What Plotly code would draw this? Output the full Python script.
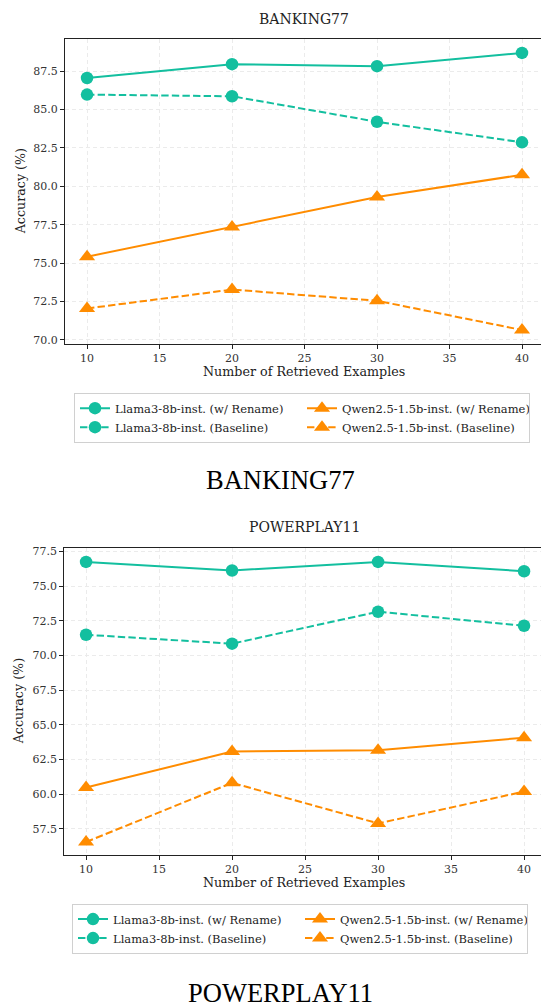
import plotly.graph_objects as go

# Number of retrieved in-context examples
retrieved = [10, 20, 30, 40]

# BANKING77 accuracy (%)
bank_llama_rename = [87.05, 87.95, 87.82, 88.68]
bank_llama_base = [85.97, 85.86, 84.20, 82.86]
bank_qwen_rename = [75.42, 77.35, 79.30, 80.75]
bank_qwen_base = [72.05, 73.28, 72.55, 70.65]

# POWERPLAY11 accuracy (%)
pp_llama_rename = [76.74, 76.12, 76.74, 76.07]
pp_llama_base = [71.49, 70.85, 73.15, 72.14]
pp_qwen_rename = [60.48, 63.08, 63.17, 64.07]
pp_qwen_base = [56.56, 60.82, 57.90, 60.19]

series_names = [
    "Llama3-8b-inst. (w/ Rename)",
    "Llama3-8b-inst. (Baseline)",
    "Qwen2.5-1.5b-inst. (w/ Rename)",
    "Qwen2.5-1.5b-inst. (Baseline)",
]
dataset_names = ["BANKING77", "POWERPLAY11"]

TEAL = "#13bf9f"
ORANGE = "#ff8c00"
DASH = "7.4px,3.2px"
SERIF = "DejaVu Serif"

W, H = 541, 1008

fig = go.Figure()


def add_panel(idx, values):
    xa = "x" if idx == 0 else "x2"
    ya = "y" if idx == 0 else "y2"
    leg = "legend" if idx == 0 else "legend2"
    styles = [
        (TEAL, "solid", "circle", 12.5),
        (TEAL, DASH, "circle", 12.5),
        (ORANGE, "solid", "triangle-up", 14),
        (ORANGE, DASH, "triangle-up", 14),
    ]
    # row-wise trace order so the 2-column legend reads column-wise
    for k in [0, 2, 1, 3]:
        color, dash, sym, size = styles[k]
        fig.add_trace(go.Scatter(
            x=retrieved, y=values[k], name=series_names[k],
            mode="lines+markers",
            line=dict(color=color, width=2, dash=dash),
            marker=dict(symbol=sym, size=size, color=color),
            xaxis=xa, yaxis=ya, legend=leg,
        ))


add_panel(0, [bank_llama_rename, bank_llama_base, bank_qwen_rename, bank_qwen_base])
add_panel(1, [pp_llama_rename, pp_llama_base, pp_qwen_rename, pp_qwen_base])

axis_common = dict(
    showline=True, linecolor="#222", linewidth=1.2,
    ticks="outside", ticklen=4, tickwidth=1, tickcolor="#222",
    tickfont=dict(family=SERIF, size=11, color="#333"),
    showgrid=True, gridcolor="#ebebeb", gridwidth=0.8, griddash="4px,3px",
    zeroline=False,
)


def py(px):
    return 1 - px / H


legend_common = dict(
    xanchor="left", yanchor="top",
    orientation="h", entrywidth=182, entrywidthmode="pixels",
    font=dict(family=SERIF, size=11.5, color="#222"),
    bordercolor="#d0d0d0", borderwidth=1, bgcolor="white",
    tracegroupgap=0, itemwidth=30,
)

fig.update_layout(
    width=W, height=H,
    margin=dict(l=0, r=0, t=0, b=0),
    paper_bgcolor="white", plot_bgcolor="white",
    showlegend=True,
    xaxis=dict(axis_common, domain=[65 / W, 1], range=[8.48, 41.31],
               tickvals=[10, 15, 20, 25, 30, 35, 40], mirror=True, anchor="y"),
    yaxis=dict(axis_common, domain=[py(343), py(36)], range=[69.74, 89.6],
               tickvals=[70, 72.5, 75, 77.5, 80, 82.5, 85, 87.5],
               ticktext=["70.0", "72.5", "75.0", "77.5", "80.0", "82.5", "85.0", "87.5"],
               anchor="x"),
    xaxis2=dict(axis_common, domain=[64.3 / W, 1], range=[8.51, 41.16],
                tickvals=[10, 15, 20, 25, 30, 35, 40], mirror=True, anchor="y2"),
    yaxis2=dict(axis_common, domain=[py(856.7), py(548.3)], range=[55.65, 77.74],
                tickvals=[57.5, 60, 62.5, 65, 67.5, 70, 72.5, 75, 77.5],
                ticktext=["57.5", "60.0", "62.5", "65.0", "67.5", "70.0", "72.5", "75.0", "77.5"],
                anchor="x2"),
    legend=dict(legend_common, x=74 / W, y=py(392)),
    legend2=dict(legend_common, x=72 / W, y=py(906)),
)

annos = []
panels = [
    dict(title_y=16, ytitle_x=20, ytitle_y=189.5, xtitle_y=371, cap_y=480),
    dict(title_y=527, ytitle_x=18, ytitle_y=702.5, xtitle_y=885, cap_y=996),
]
for name, p in zip(dataset_names, panels):
    annos.append(dict(text=name, x=304 / W, y=py(p["title_y"]), xref="paper", yref="paper",
                      xanchor="center", yanchor="middle", showarrow=False,
                      font=dict(family=SERIF, size=14, color="#222")))
    annos.append(dict(text="Accuracy (%)", x=p["ytitle_x"] / W, y=py(p["ytitle_y"]),
                      xref="paper", yref="paper", xanchor="center", yanchor="middle",
                      textangle=-90, showarrow=False,
                      font=dict(family=SERIF, size=12.7, color="#222")))
    annos.append(dict(text="Number of Retrieved Examples", x=304 / W, y=py(p["xtitle_y"]),
                      xref="paper", yref="paper", xanchor="center", yanchor="middle",
                      showarrow=False, font=dict(family=SERIF, size=12.7, color="#222")))
    annos.append(dict(text=name, x=280 / W, y=py(p["cap_y"]), xref="paper", yref="paper",
                      xanchor="center", yanchor="middle", showarrow=False,
                      font=dict(family="Liberation Serif", size=26.5, color="black")))
fig.update_layout(annotations=annos)

fig.write_html("out.html")
